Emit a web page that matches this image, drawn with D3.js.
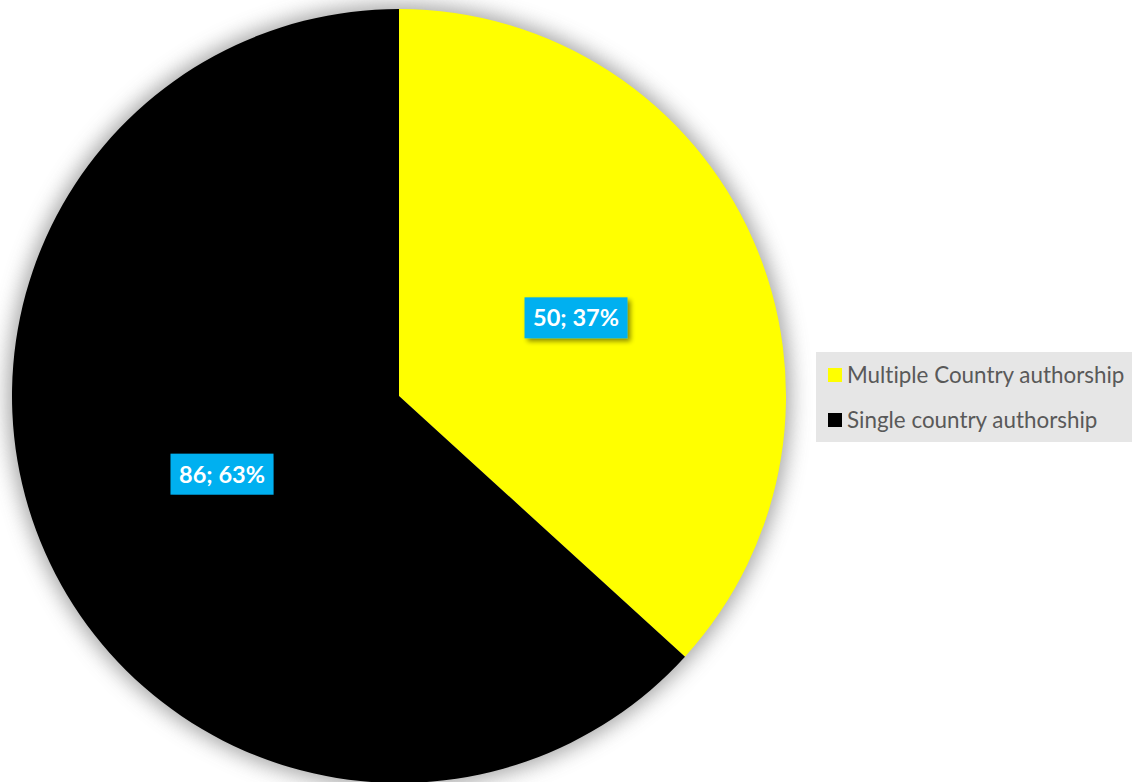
<!DOCTYPE html>
<html>
<head>
<meta charset="utf-8">
<script src="https://cdn.jsdelivr.net/npm/d3@7"></script>
<style>
  html, body { margin: 0; padding: 0; background: #ffffff; }
  svg { display: block; }
</style>
</head>
<body>
<svg id="chart" width="1132" height="782"></svg>
<script>
// Authorship breakdown
const categories = ["Multiple Country authorship", "Single country authorship"];
const values = [50, 86];
const percentLabels = ["37%", "63%"];
const colors = ["#FFFF00", "#000000"];

const W = 1132, H = 782;
const cx = 399, cy = 396, radius = 387;

const svg = d3.select("#chart");
const defs = svg.append("defs");

// soft glow around the pie
const glow = defs.append("filter").attr("id", "glow")
  .attr("x", "-10%").attr("y", "-10%").attr("width", "120%").attr("height", "120%");
glow.append("feGaussianBlur").attr("stdDeviation", 10);

// drop shadow under the value labels
const lblShadow = defs.append("filter").attr("id", "lblShadow")
  .attr("x", "-30%").attr("y", "-30%").attr("width", "160%").attr("height", "160%");
lblShadow.append("feGaussianBlur").attr("in", "SourceAlpha").attr("stdDeviation", 2.5).attr("result", "b");
lblShadow.append("feOffset").attr("in", "b").attr("dx", 3).attr("dy", 3).attr("result", "o");
lblShadow.append("feComponentTransfer").attr("in", "o").attr("result", "s")
  .append("feFuncA").attr("type", "linear").attr("slope", 0.45);
const merge = lblShadow.append("feMerge");
merge.append("feMergeNode").attr("in", "s");
merge.append("feMergeNode").attr("in", "SourceGraphic");

const data = categories.map((c, i) => ({ name: c, value: values[i], pct: percentLabels[i], color: colors[i] }));

const pie = d3.pie().value(d => d.value).sort(null);
const arcs = pie(data);
const arc = d3.arc().innerRadius(0).outerRadius(radius);

const g = svg.append("g").attr("transform", `translate(${cx},${cy})`);

g.append("circle")
  .attr("r", radius + 5)
  .attr("fill", "#8a8a8a")
  .attr("opacity", 0.75)
  .attr("filter", "url(#glow)");

g.selectAll("path.slice")
  .data(arcs)
  .join("path")
  .attr("class", "slice")
  .attr("d", arc)
  .attr("fill", d => d.data.color);

// value labels
const boxW = 103, boxH = 41;
const labels = g.selectAll("g.lbl")
  .data(arcs)
  .join("g")
  .attr("class", "lbl")
  .attr("transform", d => {
    const [x, y] = arc.centroid(d);
    return `translate(${x},${y})`;
  });

labels.append("rect")
  .attr("x", -boxW / 2).attr("y", -boxH / 2)
  .attr("width", boxW).attr("height", boxH)
  .attr("fill", "#00B0F0")
  .attr("filter", "url(#lblShadow)");

labels.append("text")
  .attr("text-anchor", "middle")
  .attr("dy", "0.36em")
  .attr("fill", "#ffffff")
  .attr("font-family", "Lato, 'Open Sans', sans-serif")
  .attr("font-weight", "bold")
  .attr("font-size", 23.5)
  .text(d => `${d.data.value}; ${d.data.pct}`);

// legend
const legend = svg.append("g");
legend.append("rect")
  .attr("x", 816).attr("y", 352)
  .attr("width", W - 816).attr("height", 90)
  .attr("fill", "#E6E6E6");

const items = legend.selectAll("g.item")
  .data(data)
  .join("g")
  .attr("class", "item")
  .attr("transform", (d, i) => `translate(828,${368 + i * 45})`);

items.append("rect")
  .attr("width", 14).attr("height", 14)
  .attr("fill", d => d.color);

items.append("text")
  .attr("x", 19).attr("y", 7)
  .attr("dy", "0.36em")
  .attr("fill", "#595959")
  .attr("font-family", "Lato, 'Open Sans', sans-serif")
  .attr("font-size", 22.4)
  .style("font-variant-ligatures", "none")
  .text(d => d.name);
</script>
</body>
</html>
